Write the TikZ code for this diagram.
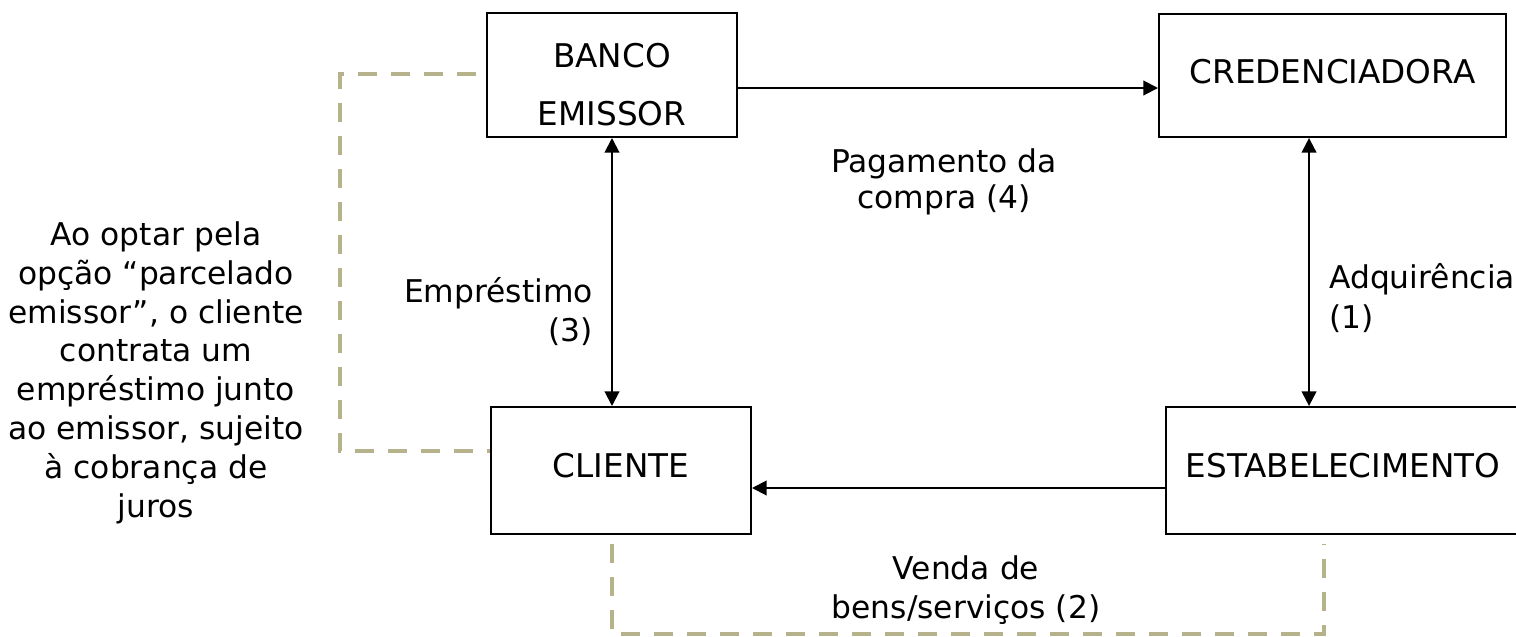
\documentclass[tikz,border=0pt]{standalone}
\usepackage{fontspec}
\setmainfont{DejaVu Sans}
\usetikzlibrary{arrows.meta,calc}
\definecolor{khaki}{RGB}{181,178,140}
\begin{document}
\begin{tikzpicture}[x=0.75pt,y=-0.75pt,
  boxbase/.style={draw, line width=1.5pt, rectangle, inner sep=0pt},
  box/.style={boxbase, font=\fontsize{24.5}{30}\selectfont, text height=17.9pt, text depth=8pt},
  arr/.style={line width=1.5pt, -{Triangle[length=11pt,width=11pt]}},
  darr/.style={line width=1.5pt, {Triangle[length=11pt,width=11pt]}-{Triangle[length=11pt,width=11pt]}},
  khakidash/.style={draw=khaki, line width=3pt, dash pattern=on 14.25pt off 10.5pt},
  lbl/.style={inner sep=0pt, anchor=base}
]
\useasboundingbox (0,0) rectangle (1516,636);
\clip (0,0) rectangle (1516,636);

\node[boxbase, minimum width=187.5pt, minimum height=93pt, align=center,
      font=\fontsize{24.5}{43.5}\selectfont, text height=75pt, text depth=0pt] (banco) at (612,75) {BANCO\\EMISSOR};
\node[box, minimum width=260.25pt, minimum height=92.25pt, text depth=6.6pt] (cred) at (1332.5,75.5) {CREDENCIADORA};
\node[box, minimum width=195pt, minimum height=95.25pt] (cliente) at (621,470.5) {CLIENTE};
\node[box, minimum width=265.5pt, minimum height=95.25pt] (estab) at (1343,470.5) {ESTABELECIMENTO};

% connectors
\coordinate (a1) at ([yshift=-9.75pt]banco.east);
\draw[arr] (a1) -- (a1 -| cred.west);
\coordinate (a2) at ([yshift=-13.125pt]estab.west);
\draw[arr] (a2) -- (a2 -| cliente.east);
\draw[darr] (banco.south) -- (banco.south |- cliente.north);
\coordinate (a3) at ([xshift=-17.6pt]cred.south);
\draw[darr] (a3) -- (a3 |- estab.north);

% dashed links
\draw[khakidash] ([xshift=-7.5pt,yshift=0.75pt]banco.west) -- ++(-136,0) |- ([yshift=14.6pt]cliente.west);
\coordinate (b1) at ([yshift=-6.75pt]banco.south |- cliente.south);
\coordinate (b2) at ([xshift=-14.25pt,yshift=-6.75pt]estab.south);
\draw[khakidash] (b1) -- ++(0,90) -| (b2);

% labels (anchor = baseline of the last line)
\node[lbl, align=center, font=\fontsize{23.5}{27}\selectfont] (pag) at (944,208) {Pagamento da\\compra (4)};
\node[lbl, anchor=base east, align=right, font=\fontsize{23.5}{29.25}\selectfont] (emp) at (593,341) {Empréstimo\\(3)};
\node[lbl, anchor=base west, align=left, font=\fontsize{23.5}{30}\selectfont] (adq) at (1329,328) {Adquirência\\(1)};
\node[lbl, align=center, font=\fontsize{23.5}{29.25}\selectfont] (venda) at (966,618) {Venda de\\bens/serviços (2)};
\node[lbl, align=center, font=\fontsize{23.5}{29.1}\selectfont] (nota) at (156,517)
  {Ao optar pela\\opção “parcelado\\emissor”, o cliente\\contrata um\\empréstimo junto\\ao emissor, sujeito\\à cobrança de\\juros};
\end{tikzpicture}
\end{document}
